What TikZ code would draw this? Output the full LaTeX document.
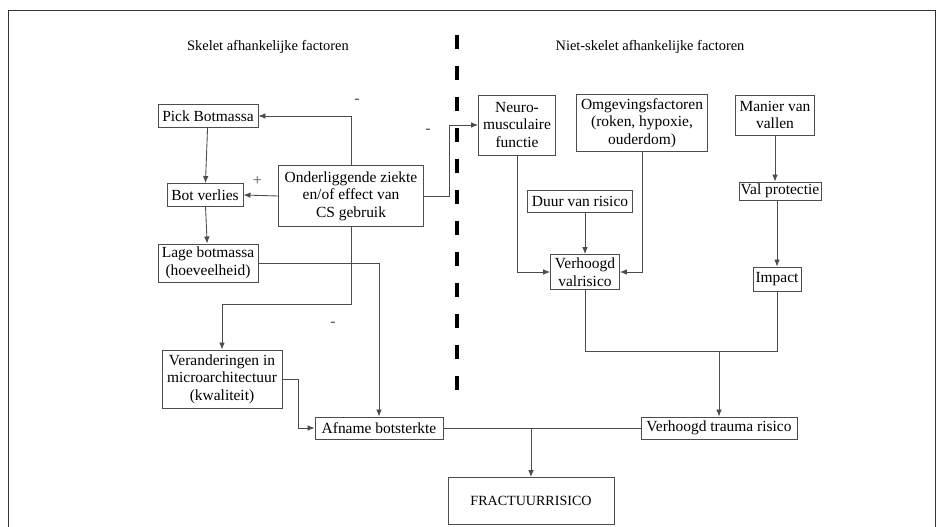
\documentclass[tikz,border=0pt]{standalone}
\usepackage{fontspec}
\setmainfont{Liberation Serif}
\usepackage{tikz}
\usetikzlibrary{arrows.meta,calc,positioning}

\begin{document}
\begin{tikzpicture}
[x=0.02cm, y=-0.02cm, ->, >={Latex[length=4pt,width=3.2pt]},
line width=0.5pt, draw=black!70,
box/.style={draw=black!70, rectangle, inner sep=1pt, align=center,
  font=\fontsize{8.8}{10}\selectfont},
sign/.style={font=\fontsize{9}{10}\selectfont, text=black!70},
title/.style={font=\fontsize{8.2}{10}\selectfont}]
\useasboundingbox (0,0) rectangle (943,527);
\draw[-, black!80] (8,527) |- (935,10) -- (935,527);

\node (t1) at (268,47)[title] {Skelet afhankelijke factoren};
\node (t2) at (650,47)[title] {Niet-skelet afhankelijke factoren};
\draw[-, black, line width=2.3pt, dash pattern=on 0.28cm off 0.34cm] (457,35) -- (457,395);

% skelet kant
\node (pick) at (208,116)[box, minimum width=2cm, minimum height=0.46cm] {Pick Botmassa};
\node (bot) at (205,195)[box, minimum width=1.52cm, minimum height=0.46cm] {Bot verlies};
\node (under) at (351,196)[box, minimum width=2.9cm, minimum height=1.22cm] {Onderliggende ziekte\\en/of effect van\\CS gebruik};
\node (lage) at (208,263)[box, minimum width=2cm, minimum height=0.76cm] {Lage botmassa\\(hoeveelheid)};
\node (ver) at (222,379)[box, minimum width=2.4cm, minimum height=1.16cm] {Veranderingen in\\microarchitectuur\\(kwaliteit)};
\node (afname) at (379,428)[box, minimum width=2.56cm, minimum height=0.44cm] {Afname botsterkte};
\node (fract) at (531,501)[box, minimum width=3.32cm, minimum height=0.94cm, font=\fontsize{8}{9}\selectfont] {FRACTUURRISICO};

% niet-skelet kant
\node (neuro) at (517,125)[box, minimum width=1.54cm, minimum height=1.2cm] {Neuro-\\musculaire\\functie};
\node (omg) at (642,123)[box, minimum width=2.62cm, minimum height=1.14cm] {Omgevingsfactoren\\(roken, hypoxie,\\ouderdom)};
\node (manier) at (775,115)[box, minimum width=1.58cm, minimum height=0.8cm] {Manier van\\vallen};
\node (duur) at (580,201)[box, minimum width=2.1cm, minimum height=0.44cm] {Duur van risico};
\node (val) at (585,272)[box, minimum width=1.38cm, minimum height=0.7cm] {Verhoogd\\valrisico};
\node (prot) at (780,191)[box, minimum width=1.5cm, minimum height=0.36cm] {Val protectie};
\node (impact) at (777,279)[box, minimum width=0.96cm, minimum height=0.48cm] {Impact};
\node (trauma) at (719,428)[box, minimum width=3.12cm, minimum height=0.44cm] {Verhoogd trauma risico};

\draw (pick) -- (bot);
\draw (bot) -- (lage);
\draw (under.west) -- node[sign, above=2pt, pos=0.6] {+} (bot.east);
\draw (under.north) |- (pick.east);
\node (m1) at (357,101)[sign] {-};
\draw (under.east) -- ++(26,0) |- (neuro.west);
\node (m2) at (428,131)[sign] {-};
\draw (under.south) -- ++(0,78) -| (ver.north);
\node (m3) at (333,324)[sign] {-};
\draw (lage.east) -| (afname.north);
\draw (ver.east) -- ++(16,0) |- (afname.west);
\draw[-] (afname.east) -- (trauma.west);
\draw (afname.east -| fract.north) -- (fract.north);

\draw (neuro.south) |- (val.west);
\draw (omg.south) |- (val.east);
\draw (duur.south -| val.north) -- (val.north);
\draw (manier.south) -- (manier.south |- prot.north);
\draw (prot.south -| impact.north) -- (impact.north);
\draw[-] (val.south) -- ++(0,62) -| (impact.south);
\coordinate (j) at (719,352);
\draw (j) -- (trauma.north);
\end{tikzpicture}
\end{document}
